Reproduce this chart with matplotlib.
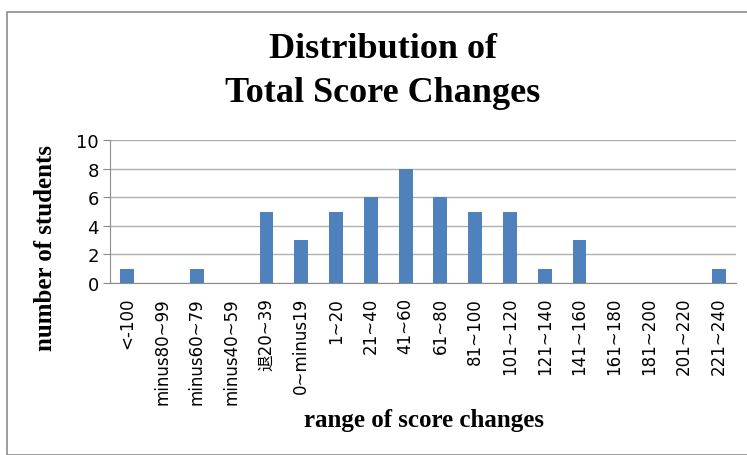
import matplotlib.pyplot as plt
from matplotlib.patches import Rectangle
import numpy as np

# 데이터
categories = ["<-100", "minus80~99", "minus60~79", "minus40~59", "退20~39", "0~minus19",
              "1~20", "21~40", "41~60", "61~80", "81~100", "101~120", "121~140",
              "141~160", "161~180", "181~200", "201~220", "221~240"]
counts = [1, 0, 1, 0, 5, 3, 5, 6, 8, 6, 5, 5, 1, 3, 0, 0, 0, 1]

fig = plt.figure(figsize=(7.47, 4.56), dpi=100)
W, H = 747, 456

# 바깥 테두리
fig.patches.append(Rectangle((7 / W, 0), 1, 1 - 13 / H, transform=fig.transFigure,
                             fill=False, edgecolor="#8c8c8c", linewidth=1.2))

ax = fig.add_axes([110 / W, 1 - 284 / H, 626 / W, 143 / H])
x = np.arange(len(categories))
ax.bar(x, counts, width=0.4, color="#4f81bd", zorder=3)
ax.set_xlim(-0.5, len(categories) - 0.5)
ax.set_ylim(0, 10)
ax.set_yticks(range(0, 11, 2))
ax.yaxis.grid(True, color="#b0b0b0", linewidth=1)
ax.set_axisbelow(True)
for s in ["top", "right"]:
    ax.spines[s].set_visible(False)
ax.spines["left"].set_color("#8c8c8c")
ax.spines["bottom"].set_color("#8c8c8c")
ax.tick_params(axis="y", length=5, color="#8c8c8c", labelsize=13, pad=3)
ax.set_xticks(x)
ax.set_xticklabels(categories, rotation=90, fontsize=12,
                   family=["DejaVu Sans", "Noto Sans CJK SC"])
ax.tick_params(axis="x", length=0, pad=10)

fig.text(383 / W, 1 - 50 / H, "Distribution of", ha="center", va="center",
         family="Liberation Serif", weight="bold", fontsize=26)
fig.text(383 / W, 1 - 94 / H, "Total Score Changes", ha="center", va="center",
         family="Liberation Serif", weight="bold", fontsize=26)
fig.text(46 / W, 1 - 248 / H, "number of students", ha="center", va="center", rotation=90,
         family="Liberation Serif", weight="bold", fontsize=18)
fig.text(424 / W, 1 - 421 / H, "range of score changes", ha="center", va="center",
         family="Liberation Serif", weight="bold", fontsize=18)

plt.savefig("out.png", dpi=100)
